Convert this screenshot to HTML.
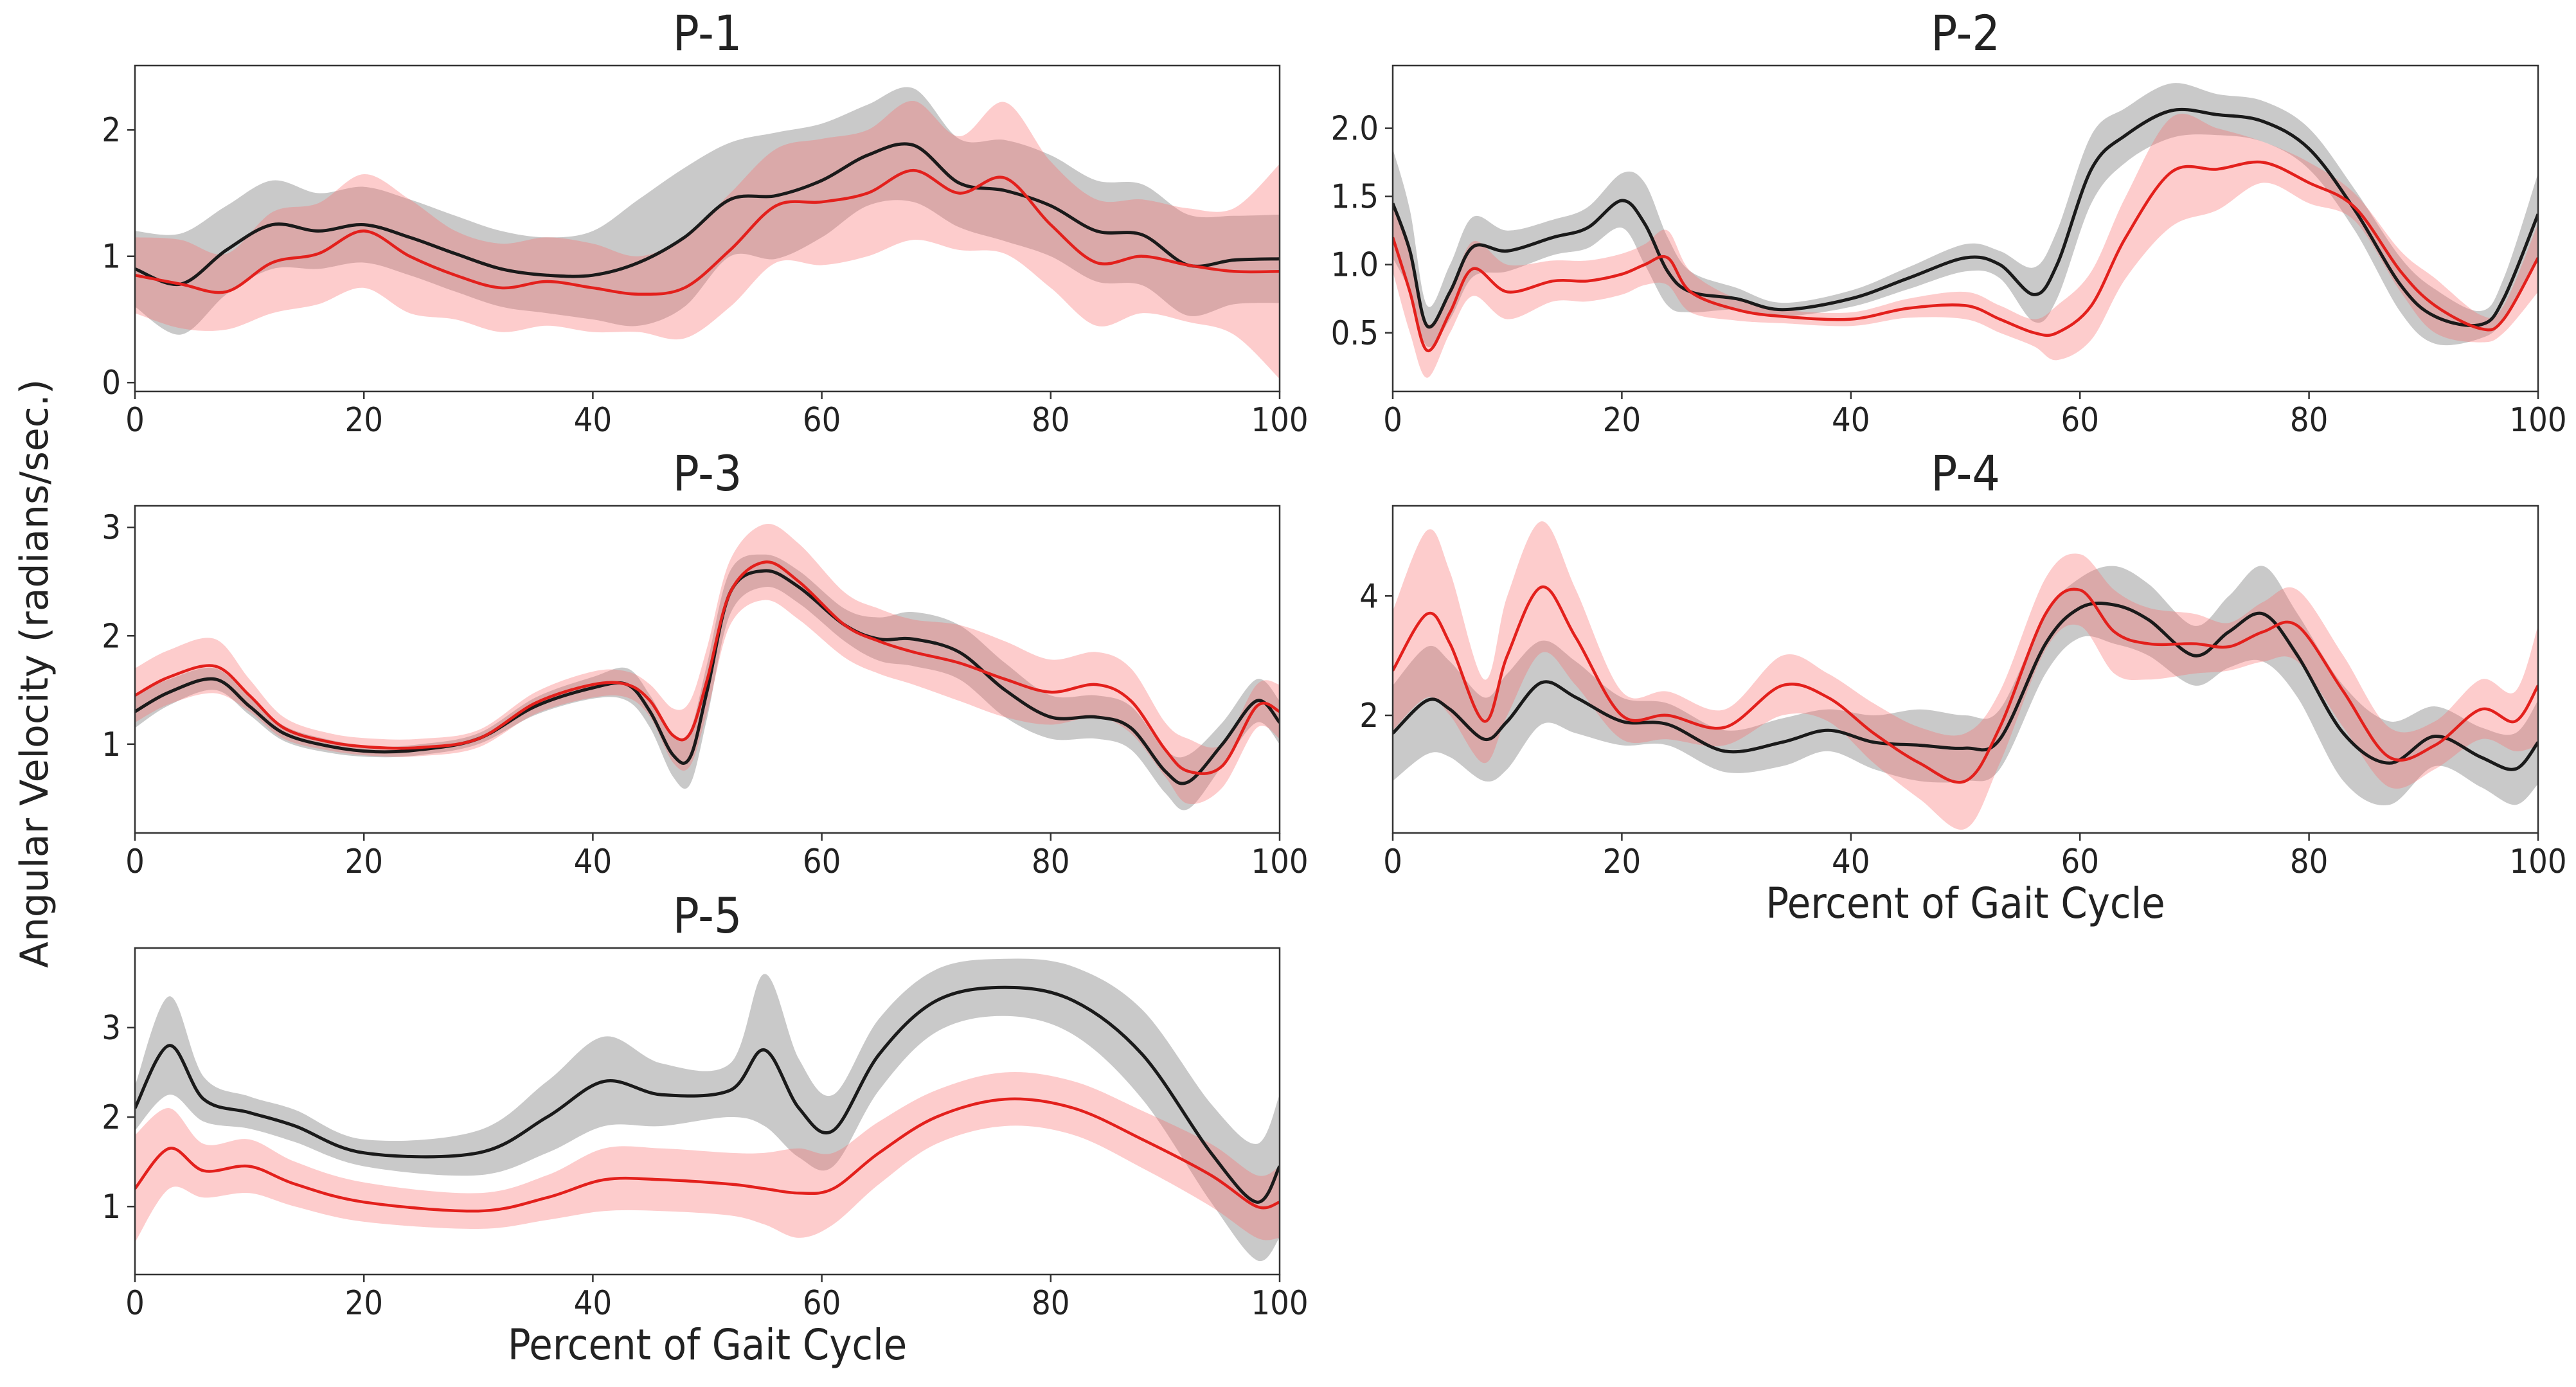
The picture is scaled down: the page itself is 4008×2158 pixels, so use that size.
<!DOCTYPE html>
<html><head><meta charset="utf-8"><style>
html,body{margin:0;padding:0;background:#fff}
svg text{font-family:"DejaVu Sans Condensed","DejaVu Sans","Liberation Sans",sans-serif;font-stretch:condensed;fill:#222}
</style></head><body>
<svg id="fig" xmlns="http://www.w3.org/2000/svg" width="4008" height="2153" viewBox="0 0 4008 2153">
<rect width="4008" height="2153" fill="#fff"/>
<text x="0" y="0" transform="translate(74,1048) rotate(-90)" text-anchor="middle" font-size="60" style="font-family:'DejaVu Sans',sans-serif;font-stretch:normal">Angular Velocity (radians/sec.)</text>
</svg>
<script>
// ---------- data ----------
const p1X=[0,4,8,12,16,20,24,28,32,36,40,44,48,52,56,60,64,68,72,76,80,84,88,92,96,100];
const p1Black=[0.9,0.78,1.05,1.25,1.2,1.25,1.15,1.02,0.9,0.85,0.85,0.95,1.15,1.45,1.48,1.6,1.8,1.88,1.58,1.52,1.4,1.2,1.17,0.93,0.97,0.98];
const p1BlackSd=[0.3,0.4,0.35,0.35,0.3,0.3,0.3,0.3,0.3,0.3,0.35,0.5,0.55,0.45,0.5,0.45,0.4,0.45,0.35,0.4,0.4,0.4,0.4,0.4,0.35,0.35];
const p1Red=[0.85,0.78,0.72,0.95,1.02,1.2,1.0,0.85,0.75,0.8,0.75,0.7,0.75,1.05,1.4,1.43,1.5,1.68,1.5,1.62,1.25,0.95,1.0,0.93,0.88,0.88];
const p1RedSd=[0.3,0.35,0.3,0.4,0.4,0.45,0.45,0.35,0.35,0.35,0.35,0.3,0.4,0.45,0.45,0.5,0.5,0.55,0.45,0.6,0.5,0.5,0.45,0.45,0.5,0.85];

const p2X=[0,1.5,3,5,7,10,14,17,20,22,24,26,30,34,40,45,50,53,56,58,61,64,68,72,76,80,84,88,91,95,97,100];
const p2Black=[1.45,1.1,0.55,0.8,1.13,1.1,1.2,1.27,1.47,1.3,0.95,0.8,0.75,0.67,0.75,0.9,1.05,1.0,0.78,1.0,1.7,1.95,2.13,2.1,2.05,1.85,1.4,0.85,0.62,0.56,0.75,1.37];
const p2BlackSd=[0.4,0.3,0.15,0.2,0.22,0.15,0.13,0.15,0.2,0.3,0.25,0.15,0.08,0.05,0.06,0.08,0.1,0.1,0.2,0.25,0.25,0.2,0.2,0.15,0.15,0.15,0.15,0.2,0.2,0.1,0.15,0.3];
const p2Red=[1.2,0.8,0.37,0.65,0.97,0.8,0.88,0.88,0.93,1.0,1.05,0.8,0.67,0.62,0.6,0.68,0.7,0.6,0.5,0.5,0.7,1.2,1.68,1.7,1.75,1.6,1.42,0.95,0.7,0.53,0.6,1.05];
const p2RedSd=[0.25,0.3,0.2,0.15,0.2,0.2,0.15,0.15,0.15,0.15,0.2,0.15,0.08,0.05,0.05,0.07,0.1,0.1,0.1,0.2,0.25,0.3,0.4,0.3,0.15,0.15,0.1,0.15,0.2,0.1,0.1,0.25];

const p3X=[0,3,7,10,13,17,21,25,30,35,40,43,45,47,48.5,50,52,55,58,62,65,68,72,76,80,84,87,90,92,95,98,100];
const p3Black=[1.3,1.48,1.6,1.35,1.1,0.98,0.93,0.95,1.05,1.35,1.52,1.55,1.3,0.9,0.88,1.5,2.4,2.6,2.45,2.1,1.97,1.97,1.85,1.5,1.25,1.25,1.15,0.75,0.65,1.0,1.4,1.2];
const p3BlackSd=[0.15,0.12,0.1,0.08,0.07,0.06,0.05,0.05,0.05,0.08,0.1,0.15,0.15,0.2,0.25,0.25,0.2,0.15,0.15,0.15,0.2,0.25,0.25,0.25,0.2,0.2,0.2,0.2,0.25,0.2,0.2,0.2];
const p3Red=[1.45,1.62,1.72,1.45,1.15,1.02,0.97,0.97,1.05,1.38,1.55,1.55,1.4,1.08,1.1,1.6,2.4,2.68,2.5,2.1,1.95,1.85,1.75,1.6,1.48,1.55,1.4,0.95,0.75,0.8,1.35,1.3];
const p3RedSd=[0.25,0.25,0.25,0.15,0.1,0.08,0.08,0.08,0.08,0.1,0.12,0.12,0.15,0.25,0.3,0.3,0.3,0.35,0.35,0.3,0.3,0.3,0.35,0.35,0.3,0.3,0.3,0.25,0.3,0.2,0.2,0.25];

const p4X=[0,3,5,8,10,13,16,20,24,29,34,38,42,46,50,53,57,60,63,66,70,73,76,79,83,87,91,95,98,100];
const p4Black=[1.7,2.25,2.1,1.6,1.9,2.55,2.3,1.9,1.85,1.4,1.55,1.75,1.55,1.5,1.45,1.6,3.2,3.8,3.85,3.6,3.0,3.4,3.7,3.0,1.7,1.2,1.65,1.3,1.1,1.55];
const p4BlackSd=[0.8,0.9,0.8,0.7,0.8,0.7,0.6,0.4,0.35,0.35,0.4,0.35,0.45,0.6,0.55,0.5,0.5,0.5,0.65,0.6,0.5,0.6,0.8,0.7,0.8,0.7,0.5,0.5,0.6,0.7];
const p4Red=[2.75,3.7,3.2,1.9,3.0,4.15,3.3,2.0,2.0,1.8,2.5,2.3,1.7,1.2,0.9,1.8,3.7,4.1,3.4,3.2,3.2,3.15,3.4,3.5,2.4,1.3,1.5,2.1,1.9,2.5];
const p4RedSd=[1.0,1.4,1.2,0.7,1.0,1.1,0.8,0.4,0.4,0.3,0.5,0.4,0.5,0.6,0.8,0.6,0.6,0.6,0.7,0.6,0.5,0.4,0.5,0.6,0.6,0.5,0.4,0.5,0.5,1.0];

const p5X=[0,3,6,10,14,20,30,36,41,46,52,55,58,61,65,70,76,82,88,94,98,100];
const p5Black=[2.1,2.8,2.2,2.05,1.9,1.6,1.6,2.0,2.4,2.25,2.3,2.75,2.1,1.85,2.7,3.3,3.45,3.3,2.7,1.6,1.05,1.45];
const p5BlackSd=[0.25,0.55,0.25,0.18,0.18,0.15,0.25,0.4,0.5,0.35,0.3,0.85,0.55,0.4,0.4,0.35,0.32,0.38,0.5,0.55,0.65,0.8];
const p5Red=[1.2,1.65,1.4,1.45,1.25,1.05,0.95,1.1,1.3,1.3,1.25,1.2,1.15,1.2,1.6,2.0,2.2,2.1,1.75,1.35,1.0,1.05];
const p5RedSd=[0.6,0.45,0.3,0.3,0.25,0.22,0.2,0.25,0.35,0.35,0.35,0.4,0.5,0.4,0.35,0.3,0.3,0.3,0.32,0.35,0.35,0.4];

const xTicks=[0,20,40,60,80,100];
const p1YTicks=[0,1,2], p2YTicks=[0.5,1.0,1.5,2.0], p3YTicks=[1,2,3], p4YTicks=[2,4], p5YTicks=[1,2,3];
const p1Title="P-1",p2Title="P-2",p3Title="P-3",p4Title="P-4",p5Title="P-5";

// ---------- layout ----------
const NS="http://www.w3.org/2000/svg";
const svg=document.getElementById('fig');
function mk(tag,attrs,parent){const e=document.createElementNS(NS,tag);for(const k in attrs)e.setAttribute(k,attrs[k]);(parent||svg).appendChild(e);return e;}
function smooth(pts){
  let d="M"+pts[0][0].toFixed(1)+","+pts[0][1].toFixed(1);
  for(let i=0;i<pts.length-1;i++){
    const p0=pts[Math.max(0,i-1)],p1=pts[i],p2=pts[i+1],p3=pts[Math.min(pts.length-1,i+2)];
    const c1=[p1[0]+(p2[0]-p0[0])/6,p1[1]+(p2[1]-p0[1])/6];
    const c2=[p2[0]-(p3[0]-p1[0])/6,p2[1]-(p3[1]-p1[1])/6];
    d+="C"+c1[0].toFixed(1)+","+c1[1].toFixed(1)+" "+c2[0].toFixed(1)+","+c2[1].toFixed(1)+" "+p2[0].toFixed(1)+","+p2[1].toFixed(1);
  }
  return d;
}
function panel(cfg){
  const {name,L,R,T,B,ymin,ymax,xs,series,yTicks,title,fmt,xlabel}=cfg;
  const g=mk('g',{});
  
  
  const sx=v=>L+(v-0)/(100-0)*(R-L);
  const sy=v=>B-(v-ymin)/(ymax-ymin)*(B-T);
  const cid='clip-'+name;
  const cp=mk('clipPath',{id:cid},g);mk('rect',{x:L,y:T,width:R-L,height:B-T},cp);
  const plot=mk('g',{'clip-path':'url(#'+cid+')'},g);
  series.forEach(s=>{
    const up=xs.map((x,i)=>[sx(x),sy(s.mean[i]+s.sd[i])]);
    const lo=xs.map((x,i)=>[sx(x),sy(s.mean[i]-s.sd[i])]).reverse();
    const d=smooth(up)+" L"+smooth(lo).slice(1)+"Z";
    const band=mk('path',{d:d,fill:s.band,stroke:'none'},plot);
    
    
  });
  series.forEach(s=>{
    const line=mk('path',{d:smooth(xs.map((x,i)=>[sx(x),sy(s.mean[i])])),fill:'none',stroke:s.color,'stroke-width':s.w},plot);
    
    
  });
  const frame=mk('rect',{x:L,y:T,width:R-L,height:B-T,fill:'none',stroke:'#333','stroke-width':2.5},g);
  
  
  xTicks.forEach(t=>{
    mk('line',{x1:sx(t),x2:sx(t),y1:B,y2:B+12,stroke:'#333','stroke-width':2.5},g);
    const tx=mk('text',{x:sx(t),y:B+62,'text-anchor':'middle','font-size':52},g);
    tx.textContent=t;
    
    
  });
  yTicks.forEach(t=>{
    mk('line',{x1:L-12,x2:L,y1:sy(t),y2:sy(t),stroke:'#333','stroke-width':2.5},g);
    const ty=mk('text',{x:L-22,y:sy(t)+18,'text-anchor':'end','font-size':52},g);
    ty.textContent=fmt?t.toFixed(1):t;
    
    
  });
  const tt=mk('text',{x:(L+R)/2,y:T-24,'text-anchor':'middle','font-size':76},g);
  tt.textContent=title;
  
  
  if(xlabel){
    const xl=mk('text',{x:(L+R)/2,y:B+132,'text-anchor':'middle','font-size':66},g);
    xl.textContent='Percent of Gait Cycle';
    
    
  }
}
const GRAY='rgba(120,120,120,0.4)',PINK='rgba(250,110,110,0.35)';
function ser(bm,bs,rm,rs){return[
  {key:'black',mean:bm,sd:bs,color:'#1a1a1a',band:GRAY,w:5},
  {key:'red',mean:rm,sd:rs,color:'#e3201c',band:PINK,w:4.5}];}
const LL=210,LR=1991,RL=2167,RR=3949;
panel({name:'panel-p1',L:LL,R:LR,T:102,B:609,ymin:-0.07,ymax:2.51,xs:p1X,series:ser(p1Black,p1BlackSd,p1Red,p1RedSd),yTicks:p1YTicks,title:p1Title});
panel({name:'panel-p2',L:RL,R:RR,T:102,B:609,ymin:0.07,ymax:2.46,xs:p2X,series:ser(p2Black,p2BlackSd,p2Red,p2RedSd),yTicks:p2YTicks,title:p2Title,fmt:true});
panel({name:'panel-p3',L:LL,R:LR,T:787,B:1296,ymin:0.18,ymax:3.2,xs:p3X,series:ser(p3Black,p3BlackSd,p3Red,p3RedSd),yTicks:p3YTicks,title:p3Title});
panel({name:'panel-p4',L:RL,R:RR,T:787,B:1296,ymin:0.03,ymax:5.51,xs:p4X,series:ser(p4Black,p4BlackSd,p4Red,p4RedSd),yTicks:p4YTicks,title:p4Title,xlabel:true});
panel({name:'panel-p5',L:LL,R:LR,T:1475,B:1983,ymin:0.24,ymax:3.89,xs:p5X,series:ser(p5Black,p5BlackSd,p5Red,p5RedSd),yTicks:p5YTicks,title:p5Title,xlabel:true});
</script>
</body></html>
